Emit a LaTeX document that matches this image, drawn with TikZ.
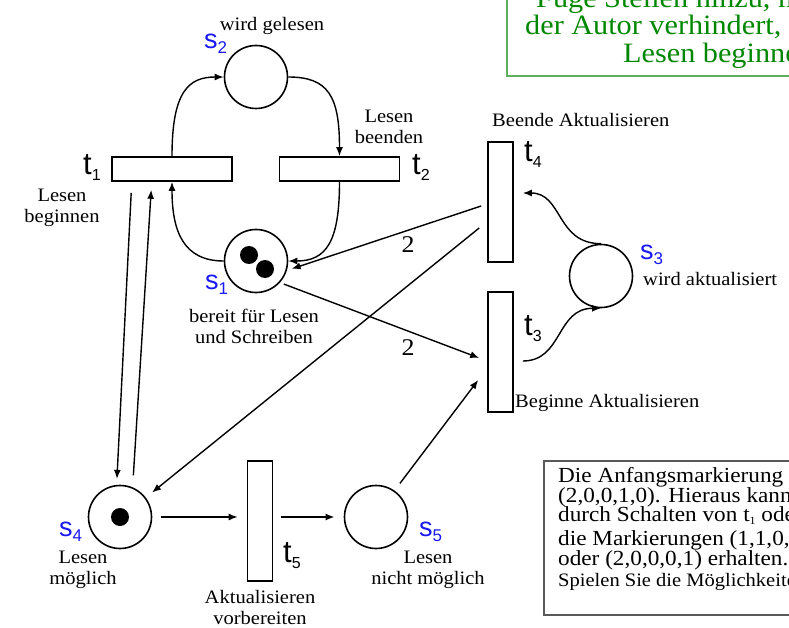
\documentclass[tikz,border=0pt]{standalone}
\usepackage{fontspec}
\setmainfont{Liberation Serif}[FakeStretch=1.08]
\newfontfamily\labsans{Liberation Sans}
\usetikzlibrary{arrows.meta}

\definecolor{notegreen}{RGB}{0,135,0}
\definecolor{noteframe}{RGB}{95,175,95}
\definecolor{infoframe}{RGB}{90,90,90}
\definecolor{placeblue}{RGB}{25,25,245}

% transition name: t with a lowered index
\newcommand\tname[1]{{\labsans\fontsize{31}{31}\selectfont t}\raisebox{-6pt}{\labsans\fontsize{16}{16}\selectfont #1}}
% place name: blue s with a lowered index
\newcommand\pname[1]{\textcolor{placeblue}{{\labsans\fontsize{27}{27}\selectfont s}\raisebox{-5pt}{\labsans\fontsize{17}{17}\selectfont #1}}}

\begin{document}
\begin{tikzpicture}[x=1pt,y=-1pt,
  place/.style={circle,draw,line width=1.6pt,minimum size=63pt,inner sep=0pt},
  trans/.style={draw,line width=1.6pt,inner sep=0pt},
  htrans/.style={trans,minimum width=120pt,minimum height=24pt},
  vtrans/.style={trans,minimum width=25pt,minimum height=120pt},
  token/.style={circle,fill,minimum size=18pt,inner sep=0pt},
  arc/.style={line width=1.4pt,-{Latex[length=9pt,width=7pt]}},
  heavyarc/.style={arc,line width=2.6pt},
  lbl/.style={font=\fontsize{19}{21}\selectfont,align=center,inner sep=0pt},
  lblw/.style={lbl,anchor=base west},
  weight/.style={font=\fontsize{24}{24}\selectfont,inner sep=0pt,anchor=base},
  nametag/.style={inner sep=0pt,anchor=base west},
  notetext/.style={font=\fontsize{28}{28}\selectfont,text=notegreen,inner sep=0pt,anchor=base west},
  infotext/.style={font=\fontsize{21.5}{21.5}\selectfont,inner sep=0pt,anchor=base west},
]
\useasboundingbox (0,0) rectangle (789,628);
\clip (0,0) rectangle (789,628);

% places
\node[place] (s1) at (256,261) {};
\node[place] (s2) at (256,77) {};
\node[place] (s3) at (601,276) {};
\node[place] (s4) at (120,517) {};
\node[place] (s5) at (376,517) {};

% tokens
\node[token] (m1) at (249,255) {};
\node[token] (m2) at (265,269) {};
\node[token] (m3) at (120,517) {};

% transitions
\node[htrans] (t1) at (172,169) {};
\node[htrans] (t2) at (339.5,169) {};
\node[vtrans] (t4) at (500.5,202) {};
\node[vtrans] (t3) at (500.5,352) {};
\node[vtrans] (t5) at (260,521) {};

% reading cycle
\draw[arc] (t1.north) .. controls +(0,-65) and +(-35,0) .. (s2.west);
\draw[arc] (s2.east) .. controls +(40,0) and +(0,-60) .. (t2.north);
\draw[arc] (t2.south) .. controls +(0,60) and +(38,0) .. (s1.east);
\draw[arc] (s1.west) .. controls +(-40,0) and +(0,50) .. (t1.south);

% updating cycle
\draw[arc] ([shift={(9,9)}]t3.east) .. controls +(40,0) and +(-45,0) .. (s3.south);
\draw[arc] (s3.north) .. controls +(-45,0) and +(40,0) .. ([shift={(9,-9)}]t4.east);

% weighted arcs
\draw[arc,shorten >=5pt] ([shift={(-6,4)}]t4.west) -- (s1.-17);
\draw[arc,shorten <=4pt] (s1.-42) -- ([shift={(-8,6)}]t3.west);
\node[weight] (w1) at (408,252) {2};
\node[weight] (w2) at (408,355) {2};

% arcs around s4 and s5
\draw[arc,shorten >=8pt] ([shift={(-8,26)}]t4.west) -- (s4.37);
\draw[arc,shorten <=9pt] (s5.55) -- ([shift={(-9,28)}]t3.west);
\draw[arc,shorten >=6pt] ([shift={(20,11)}]t1.south west) -- (s4.96);
\draw[arc,shorten <=12pt] (s4.67) -- ([shift={(40,8)}]t1.south west);
\draw[arc,shorten <=9pt] (s4.east) -- ([shift={(-9,-4)}]t5.west);
\draw[heavyarc,shorten >=9pt] ([shift={(8,-4)}]t5.east) -- (s5.west);

% transition names
\node[nametag] (n1) at (83,175) {\tname{1}};
\node[nametag] (n2) at (412,175) {\tname{2}};
\node[nametag] (n4) at (524,162) {\tname{4}};
\node[nametag] (n3) at (524,335) {\tname{3}};
\node[nametag] (n5) at (283,562) {\tname{5}};

% place names
\node[nametag] (p1) at (205,289) {\pname{1}};
\node[nametag] (p2) at (204,49) {\pname{2}};
\node[nametag] (p3) at (640,259) {\pname{3}};
\node[nametag] (p4) at (59,536) {\pname{4}};
\node[nametag] (p5) at (419,536) {\pname{5}};

% descriptions (base anchor sits on the last line)
\node[lbl,anchor=base] (d2) at (272,31) {wird gelesen};
\node[lbl,anchor=base] (dt2) at (389,144) {Lesen\\beenden};
\node[lbl,anchor=base] (dt1) at (62,223) {Lesen\\beginnen};
\node[lbl,anchor=base] (d1) at (254,343) {bereit für Lesen\\und Schreiben};
\node[lblw] (dt4) at (492,127) {Beende Aktualisieren};
\node[lblw] (d3) at (643,285) {wird aktualisiert};
\node[lblw] (dt3) at (515,407) {Beginne Aktualisieren};
\node[lbl,anchor=base] (d4) at (83,584) {Lesen\\möglich};
\node[lbl,anchor=base] (dt5) at (260,624) {Aktualisieren\\vorbereiten};
\node[lbl,anchor=base] (d5) at (428,584) {Lesen\\nicht möglich};

% exercise note
\draw[noteframe,line width=1.2pt] (507,76) rectangle (820,-20);
\node[notetext] (g1) at (536,8) {Füge Stellen hinzu, mit denen};
\node[notetext] (g2) at (525,35) {der Autor verhindert, dass ein};
\node[notetext] (g3) at (623,63) {Lesen beginnen kann};

% initial marking note
\draw[infoframe,line width=1.6pt] (544,461) rectangle (820,615);
\node[infotext] (i1) at (558,482) {Die Anfangsmarkierung ist};
\node[infotext] (i2) at (558,502) {(2,0,0,1,0). Hieraus kann man};
\node[infotext] (i3) at (558,521) {durch Schalten von t\raisebox{-3pt}{\fontsize{11}{11}\selectfont 1} oder t\raisebox{-3pt}{\fontsize{11}{11}\selectfont 5}};
\node[infotext] (i4) at (558,545) {die Markierungen (1,1,0,1,0)};
\node[infotext] (i5) at (558,565) {oder (2,0,0,0,1) erhalten.};
\node[infotext,font=\fontsize{19}{19}\selectfont] (i6) at (558,586) {Spielen Sie die Möglichkeiten durch.};
\end{tikzpicture}
\end{document}
